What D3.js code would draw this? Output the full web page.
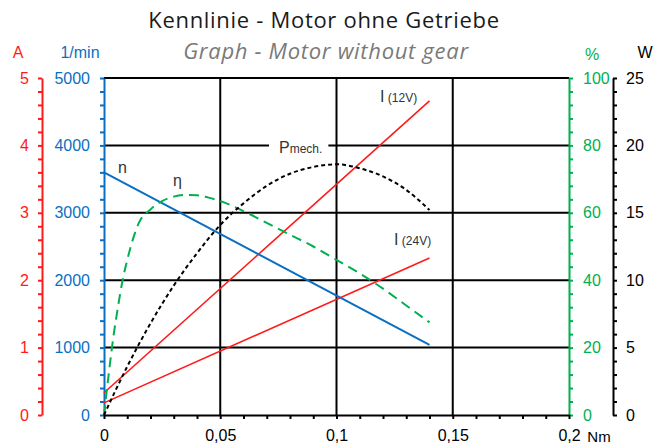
<!DOCTYPE html>
<html><head><meta charset="utf-8">
<script src="https://cdn.jsdelivr.net/npm/d3@7"></script>
<style>
body{margin:0;background:#fff;}
svg{display:block;}
.nar{font-family:"Liberation Sans Narrow","Arial Narrow","Liberation Sans",Arial,sans-serif;}
</style></head>
<body>
<svg id="c" width="665" height="446"></svg>
<script>
// ---- data ----
const speedTorque = [0, 0.14];          // Nm
const speedValues = [3600, 1040];       // 1/min
const current12Torque = [0, 0.14];
const current12Values = [0.33, 4.66];   // A
const current24Torque = [0, 0.14];
const current24Values = [0.18, 2.33];   // A
const effTorque = [0,0.002,0.004,0.006,0.008,0.01,0.015,0.02,0.025,0.03,0.035,0.04,0.045,0.05,0.06,0.07,0.08,0.09,0.1,0.11,0.12,0.13,0.14];
const effValues = [0,12,23,32,40,46,57,61,63.5,64.8,65.3,65.2,64.5,63.5,60.5,57,53.5,50,46,42,37.5,32.5,27.5]; // %
const powTorque = [0,0.01,0.02,0.03,0.04,0.05,0.06,0.07,0.08,0.09,0.1,0.11,0.12,0.13,0.14];
const powValues = [0,3.6,6.8,9.6,12.0,14.1,15.7,17.0,17.9,18.4,18.6,18.3,17.7,16.7,15.2]; // W
const xTicks = [0,0.05,0.1,0.15,0.2];
const xTickLabels = ["0","0,05","0,1","0,15","0,2"];
const speedTicks = [0,1000,2000,3000,4000,5000];
const ampTicks = [0,1,2,3,4,5];
const pctTicks = [0,20,40,60,80,100];
const wattTicks = [0,5,10,15,20,25];

const RED="#ff1a1a", BLUE="#0a6fc2", GREEN="#00b050", BLACK="#000";
const svg = d3.select("#c");
const L=104, R=569, T=78, B=415;
const x = d3.scaleLinear([0,0.2],[L,R]);
const yN = d3.scaleLinear([0,5000],[B,T]);
const yA = d3.scaleLinear([0,5],[B,T]);
const yP = d3.scaleLinear([0,100],[B,T]);
const yW = d3.scaleLinear([0,25],[B,T]);

// titles
svg.append("text").attr("x",324).attr("y",28).attr("text-anchor","middle")
  .attr("font-family","Open Sans, Noto Sans, sans-serif").attr("font-size",22).attr("letter-spacing",0.7).attr("fill","#1a1a1a")
  .text("Kennlinie - Motor ohne Getriebe");
svg.append("text").attr("x",326).attr("y",59).attr("text-anchor","middle")
  .attr("font-family","Open Sans, Noto Sans, sans-serif").attr("font-style","italic").attr("font-size",22).attr("letter-spacing",0.7).attr("fill","#7a7a7a")
  .text("Graph - Motor without gear");

// grid
const g = svg.append("g");
g.selectAll(".hg").data(speedTicks.slice(1)).join("line")
  .attr("x1",L).attr("x2",R).attr("y1",d=>yN(d)).attr("y2",d=>yN(d))
  .attr("stroke",BLACK).attr("stroke-width",2);
g.selectAll(".vg").data(xTicks.slice(1,-1)).join("line")
  .attr("x1",d=>x(d)).attr("x2",d=>x(d)).attr("y1",T).attr("y2",B)
  .attr("stroke",BLACK).attr("stroke-width",2);

function styleAxis(sel,color,textColor){
  sel.attr("class","nar").attr("font-size",16);
  sel.select(".domain").attr("stroke",color).attr("stroke-width",2);
  sel.selectAll(".tick line").attr("stroke",color).attr("stroke-width",2);
  sel.selectAll(".tick text").attr("fill",textColor);
}
function isMajor(d,step){return Math.abs(d/step-Math.round(d/step))<1e-6;}

// red A axis
const aAx = svg.append("g").attr("transform","translate(42,0)")
  .call(d3.axisLeft(yA).tickValues(d3.range(0,5.0001,0.2)).tickSize(4).tickSizeOuter(0).tickPadding(9)
  .tickFormat(d=>isMajor(d,1)?d3.format("d")(d):""));
styleAxis(aAx,RED,RED);
// blue speed axis
const nAx = svg.append("g").attr("transform",`translate(${L},0)`)
  .call(d3.axisLeft(yN).tickValues(d3.range(0,5001,200)).tickSize(4).tickSizeOuter(0).tickPadding(10)
  .tickFormat(d=>isMajor(d,1000)?d:""));
styleAxis(nAx,BLUE,BLUE);
// green % axis
const pAx = svg.append("g").attr("transform",`translate(${R},0)`)
  .call(d3.axisRight(yP).tickValues(d3.range(0,100.001,4)).tickSize(4).tickSizeOuter(0).tickPadding(10)
  .tickFormat(d=>isMajor(d,20)?d3.format("d")(d):""));
styleAxis(pAx,GREEN,GREEN);
// black W axis
const wAx = svg.append("g").attr("transform","translate(613,0)")
  .call(d3.axisRight(yW).tickValues(d3.range(0,25.001,1)).tickSize(4).tickSizeOuter(0).tickPadding(9)
  .tickFormat(d=>isMajor(d,5)?d3.format("d")(d):""));
styleAxis(wAx,BLACK,BLACK);
// x axis
const xAx = svg.append("g").attr("transform",`translate(0,${B})`)
  .call(d3.axisBottom(x).tickValues(d3.range(0,0.20001,0.01)).tickSize(4).tickSizeOuter(0).tickPadding(11)
  .tickFormat(d=>{const i=xTicks.findIndex(t=>Math.abs(t-d)<1e-9);return i>=0?xTickLabels[i]:"";}));
styleAxis(xAx,BLACK,BLACK);

// axis titles
const at = (t,xx,yy,c,fs)=>svg.append("text").attr("class","nar").attr("x",xx).attr("y",yy)
  .attr("text-anchor","middle").attr("font-size",fs||16).attr("fill",c).text(t);
at("A",18,58,RED);
at("1/min",80,58,BLUE);
at("%",592,60,GREEN);
at("W",645,58,BLACK);
at("Nm",599,442,BLACK,15);

// curves
const line = (xs,ys,ysc)=>d3.line().x((d,i)=>x(xs[i])).y(d=>ysc(d));
svg.append("path").attr("d",line(current12Torque,current12Values,yA)(current12Values))
  .attr("fill","none").attr("stroke",RED).attr("stroke-width",1.6);
svg.append("path").attr("d",line(current24Torque,current24Values,yA)(current24Values))
  .attr("fill","none").attr("stroke",RED).attr("stroke-width",1.6);
svg.append("path").attr("d",line(speedTorque,speedValues,yN)(speedValues))
  .attr("fill","none").attr("stroke",BLUE).attr("stroke-width",2);
svg.append("path").attr("d",line(effTorque,effValues,yP).curve(d3.curveMonotoneX)(effValues))
  .attr("fill","none").attr("stroke",GREEN).attr("stroke-width",2).attr("stroke-dasharray","10,6");
svg.append("path").attr("d",line(powTorque,powValues,yW).curve(d3.curveMonotoneX)(powValues))
  .attr("fill","none").attr("stroke",BLACK).attr("stroke-width",2).attr("stroke-dasharray","4,3");

// curve labels
const lab = (parts,xx,yy,bg)=>{
  const t = svg.append("text").attr("class","nar").attr("x",xx).attr("y",yy).attr("fill","#333");
  parts.forEach(p=>t.append("tspan").attr("font-size",p[1]).text(p[0]));
  if(bg){const bb=t.node().getBBox();
    svg.insert("rect",()=>t.node()).attr("x",bb.x-10).attr("y",bb.y).attr("width",bb.width+16).attr("height",bb.height).attr("fill","#fff");}
};
lab([["n",16]],118,173);
lab([["η",16]],173,186);
lab([["P",16],["mech.",12]],279,153,true);
lab([["I",16],[" (12V)",12]],380,102);
lab([["I",16],[" (24V)",12]],394,245);
</script>
</body></html>
